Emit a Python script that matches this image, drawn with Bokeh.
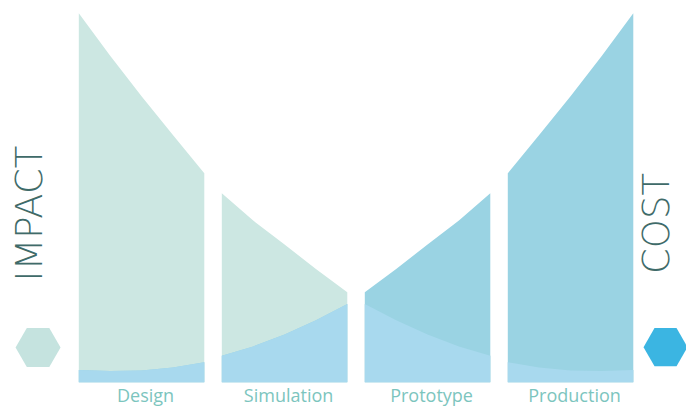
from math import pi
from bokeh.plotting import figure
from bokeh.models import Range1d, ColumnDataSource
from bokeh.core.properties import value
from bokeh.embed import file_html
from bokeh.resources import INLINE

# ---- data ----
stages = ["Design", "Simulation", "Prototype", "Production"]
# sample positions across each stage column (fraction of column width)
sample_frac = [0.0, 0.25, 0.5, 0.75, 1.0]
impact_design = [100.0, 88.5, 77.5, 67.0, 56.6]
impact_simulation = [51.2, 43.8, 37.3, 30.7, 24.4]
impact_prototype = [21.2, 16.8, 12.9, 9.7, 7.2]
impact_production = [5.4, 4.0, 3.2, 3.0, 3.3]
cost_design = [3.3, 3.0, 3.2, 4.0, 5.4]
cost_simulation = [7.2, 9.7, 12.9, 16.8, 21.2]
cost_prototype = [24.4, 30.7, 37.3, 43.8, 51.2]
cost_production = [56.6, 67.0, 77.5, 88.5, 100.0]
series_titles = ["IMPACT", "COST"]

impact = [impact_design, impact_simulation, impact_prototype, impact_production]
cost = [cost_design, cost_simulation, cost_prototype, cost_production]

# ---- style ----
IMPACT_FILL = "#CCE7E2"
COST_FILL = "#9AD3E3"
OVERLAP_FILL = "#A8D9EE"
TITLE_COLOR = "#3F6B69"
LABEL_COLOR = "#7CC5BE"
HEX_IMPACT = "#C5E3DF"
HEX_COST = "#3BB5E2"
COL_W = 0.8776

p = figure(width=686, height=409, output_backend="svg", toolbar_location=None,
           x_range=Range1d(-0.5476, 4.2497), y_range=Range1d(-7.40, 103.44),
           min_border=0)
p.axis.visible = False
p.grid.visible = False
p.outline_line_color = None
p.background_fill_color = "white"
p.border_fill_color = "white"

for i, name in enumerate(stages):
    xs = [i + f * COL_W for f in sample_frac]
    imp = impact[i]
    cst = cost[i]
    ov = [min(a, b) for a, b in zip(imp, cst)]
    src = ColumnDataSource(dict(x=xs, imp=imp, cst=cst, ov=ov, z=[0] * len(xs)))
    p.varea(x="x", y1="z", y2="imp", source=src, fill_color=IMPACT_FILL)
    p.varea(x="x", y1="z", y2="cst", source=src, fill_color=COST_FILL)
    p.varea(x="x", y1="z", y2="ov", source=src, fill_color=OVERLAP_FILL)

label_src = ColumnDataSource(dict(
    x=[i + COL_W / 2 + 0.028 for i in range(len(stages))],
    y=[-3.5] * len(stages),
    t=stages))
p.text(x="x", y="y", text="t", source=label_src, text_align="center",
       text_baseline="middle", text_color=LABEL_COLOR,
       text_font=value("Open Sans"), text_font_size="18px")

title_font = value("'DejaVu Sans Light', 'Lato Light', 'DejaVu Sans', sans-serif")
p.text(x=[-0.347], y=[45.7], text=[series_titles[0]], angle=pi / 2,
       text_align="center", text_baseline="middle", text_color=TITLE_COLOR,
       text_font=title_font, text_font_size="37px")
p.text(x=[4.043], y=[43.0], text=[series_titles[1]], angle=pi / 2,
       text_align="center", text_baseline="middle", text_color=TITLE_COLOR,
       text_font=title_font, text_font_size="37px")

p.scatter(x=[-0.285], y=[9.4], marker="hex", size=45, fill_color=HEX_IMPACT, line_color=None)
p.scatter(x=[4.103], y=[9.5], marker="hex", size=44, fill_color=HEX_COST, line_color=None)

open("out.html", "w").write(file_html(p, INLINE))
